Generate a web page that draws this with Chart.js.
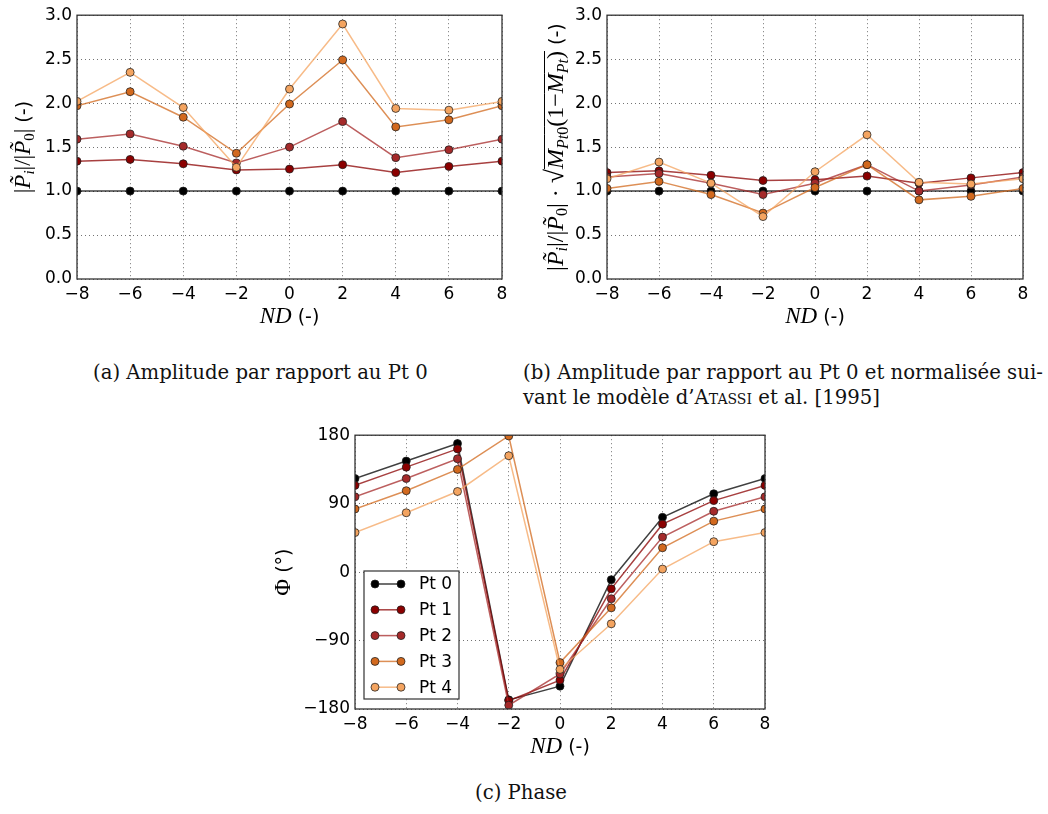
<!DOCTYPE html>
<html>
<head>
<meta charset="utf-8">
<script src="https://cdn.jsdelivr.net/npm/chart.js@4.4.0/dist/chart.umd.min.js"></script>
<style>
  body { margin: 0; background: #fff; width: 1048px; height: 814px; position: relative; overflow: hidden; }
  canvas { position: absolute; }
  .cap { position: absolute; font-family: 'DejaVu Serif', serif; font-size: 18px; color: #111; white-space: nowrap; line-height: 25px; }
</style>
</head>
<body>
<canvas id="chartA" width="520" height="335" style="left:0;top:0"></canvas>
<canvas id="chartB" width="528" height="335" style="left:520px;top:0"></canvas>
<canvas id="chartC" width="520" height="345" style="left:270px;top:420px"></canvas>
<div class="cap" style="left:93px;top:360px">(a) Amplitude par rapport au Pt 0</div>
<div class="cap" style="left:523px;top:360px"><span id="capLine">(b) Amplitude par rapport au Pt 0 et normalisée sui-</span><br>vant le modèle d’A<span style="font-variant:small-caps">tassi</span> et al. [1995]</div>
<div class="cap" style="left:475px;top:780px">(c) Phase</div>
<script>
// ND positions
const nd = [-8, -6, -4, -2, 0, 2, 4, 6, 8];
const labels = ['Pt 0', 'Pt 1', 'Pt 2', 'Pt 3', 'Pt 4'];
const colors = ['#000000', '#8b0000', '#a52a2a', '#d2691e', '#f4a460'];

// (a) amplitude relative to Pt 0
const ampPt0 = [1, 1, 1, 1, 1, 1, 1, 1, 1];
const ampPt1 = [1.34, 1.36, 1.31, 1.24, 1.25, 1.30, 1.21, 1.28, 1.34];
const ampPt2 = [1.59, 1.65, 1.51, 1.32, 1.50, 1.79, 1.38, 1.47, 1.59];
const ampPt3 = [1.97, 2.13, 1.84, 1.43, 1.99, 2.49, 1.73, 1.81, 1.97];
const ampPt4 = [2.02, 2.35, 1.95, 1.27, 2.16, 2.90, 1.94, 1.92, 2.02];

// (b) normalised amplitude (Atassi)
const normPt0 = [1, 1, 1, 1, 1, 1, 1, 1, 1];
const normPt1 = [1.21, 1.23, 1.18, 1.12, 1.13, 1.17, 1.09, 1.15, 1.21];
const normPt2 = [1.16, 1.20, 1.09, 0.96, 1.09, 1.30, 1.00, 1.07, 1.16];
const normPt3 = [1.03, 1.11, 0.96, 0.75, 1.04, 1.30, 0.90, 0.94, 1.03];
const normPt4 = [1.14, 1.33, 1.09, 0.71, 1.22, 1.64, 1.10, 1.08, 1.14];

// (c) phase in degrees
const phasePt0 = [123, 146, 169, -168, -150, -10, 72, 103, 123];
const phasePt1 = [114, 138, 162, -169, -142, -22, 63, 94, 114];
const phasePt2 = [99, 123, 149, -175, -134, -35, 46, 80, 99];
const phasePt3 = [83, 107, 135, 179, -119, -47, 32, 67, 83];
const phasePt4 = [52, 78, 106, 153, -128, -68, 4, 40, 52];

const SERIF = "'Liberation Serif', serif";
const SANS = "'DejaVu Sans', sans-serif";
const up = s => s + 'px ' + SERIF;
const it = s => 'italic ' + s + 'px ' + SERIF;
const sans = s => s + 'px ' + SANS;

// caption font size so that line 1 of (b) spans the same width as in the figure
const capLine = document.getElementById('capLine');
const capSize = 18 * 520 / capLine.getBoundingClientRect().width;
document.querySelectorAll('.cap').forEach(el => { el.style.fontSize = capSize.toFixed(2) + 'px'; });

function rgba(hex, a) {
  const n = parseInt(hex.slice(1), 16);
  return 'rgba(' + (n >> 16) + ',' + ((n >> 8) & 255) + ',' + (n & 255) + ',' + a + ')';
}

function minus(v) {
  return v < 0 ? '\u2212' + Math.abs(v) : '' + v;
}

// draw a run of text pieces in different fonts, centred on (x, y)
function drawRich(ctx, segs, x, y, angle) {
  ctx.save();
  ctx.translate(x, y);
  ctx.rotate(angle);
  ctx.textBaseline = 'alphabetic';
  ctx.fillStyle = '#000';
  let w = 0;
  segs.forEach(s => { ctx.font = s.f; s.w = ctx.measureText(s.t).width; w += s.w; });
  let cx = -w / 2;
  segs.forEach(s => {
    ctx.font = s.f;
    ctx.fillText(s.t, cx, s.dy || 0);
    if (s.over) ctx.fillRect(cx, -s.over, s.w, 1);
    cx += s.w;
  });
  ctx.restore();
}

const xTitle = [
  { t: 'ND', f: it(23) },
  { t: ' (-)', f: sans(19) }
];

const yTitleA = [
  { t: '|', f: up(23) }, { t: 'P\u0303', f: it(23) }, { t: 'i', f: it(15), dy: 4 },
  { t: '|/|', f: up(23) }, { t: 'P\u0303', f: it(23) }, { t: '0', f: up(15), dy: 4 },
  { t: '|', f: up(23) }, { t: ' (-)', f: sans(19) }
];

const yTitleB = [
  { t: '|', f: up(24) }, { t: 'P\u0303', f: it(24) }, { t: 'i', f: it(16), dy: 4 },
  { t: '|/|', f: up(24) }, { t: 'P\u0303', f: it(24) }, { t: '0', f: up(16), dy: 4 },
  { t: '| \u00b7 ', f: up(24) }, { t: '\u221a', f: up(26) },
  { t: 'M', f: it(24), over: 19 }, { t: 'Pt', f: it(16), dy: 5, over: 19 }, { t: '0', f: up(16), dy: 5, over: 19 },
  { t: '(1\u2212', f: up(24), over: 19 }, { t: 'M', f: it(24), over: 19 },
  { t: 'Pt', f: it(16), dy: 5, over: 19 }, { t: ')', f: up(24), over: 19 },
  { t: ' (-)', f: sans(19) }
];

const yTitleC = [
  { t: '\u03a6', f: up(23) },
  { t: ' (\u00b0)', f: sans(19) }
];

const framePlugin = {
  id: 'frame',
  afterDatasetsDraw(chart) {
    const { ctx, chartArea: a } = chart;
    ctx.save();
    ctx.strokeStyle = '#333';
    ctx.lineWidth = 1.3;
    ctx.strokeRect(a.left, a.top, a.right - a.left, a.bottom - a.top);
    ctx.restore();
  }
};

const titlePlugin = {
  id: 'axisTitles',
  afterDraw(chart, args, opts) {
    const { ctx, chartArea: a } = chart;
    drawRich(ctx, opts.x, (a.left + a.right) / 2, a.bottom + 44, 0);
    drawRich(ctx, opts.y, a.left - opts.yOff, (a.top + a.bottom) / 2, -Math.PI / 2);
  }
};

const legendPlugin = {
  id: 'boxLegend',
  afterDraw(chart, args, opts) {
    if (!opts.show) return;
    const { ctx, chartArea: a } = chart;
    const bx = a.left + 9, bw = 95, bh = 128, by = a.bottom - 10 - bh;
    ctx.save();
    ctx.fillStyle = '#fff';
    ctx.fillRect(bx, by, bw, bh);
    ctx.strokeStyle = '#333';
    ctx.lineWidth = 1.2;
    ctx.strokeRect(bx, by, bw, bh);
    chart.data.datasets.forEach((ds, i) => {
      const y = by + 13 + i * 25.8;
      ctx.strokeStyle = ds.borderColor;
      ctx.lineWidth = 1.5;
      ctx.beginPath();
      ctx.moveTo(bx + 11, y);
      ctx.lineTo(bx + 37, y);
      ctx.stroke();
      [bx + 11, bx + 37].forEach(px => {
        ctx.beginPath();
        ctx.arc(px, y, 4, 0, Math.PI * 2);
        ctx.fillStyle = ds.pointBackgroundColor;
        ctx.fill();
        ctx.strokeStyle = ds.pointBorderColor;
        ctx.lineWidth = 1;
        ctx.stroke();
      });
      ctx.fillStyle = '#000';
      ctx.font = sans(17);
      ctx.textBaseline = 'middle';
      ctx.fillText(ds.label, bx + 55, y + 1);
    });
    ctx.restore();
  }
};

function makeDatasets(series) {
  return series.map((vals, i) => ({
    label: labels[i],
    data: nd.map((x, j) => ({ x: x, y: vals[j] })),
    borderColor: rgba(colors[i], 0.75),
    borderWidth: 1.5,
    pointRadius: 4,
    pointBackgroundColor: colors[i],
    pointBorderColor: 'rgba(30,30,30,0.75)',
    pointBorderWidth: 1,
    tension: 0,
    fill: false,
    order: 4 - i
  }));
}

function makeChart(id, series, cfg) {
  new Chart(document.getElementById(id), {
    type: 'line',
    data: { datasets: makeDatasets(series) },
    options: {
      responsive: false,
      animation: false,
      events: [],
      layout: { padding: { left: 0, top: cfg.top, right: cfg.right, bottom: 0 } },
      scales: {
        x: {
          type: 'linear',
          min: -8, max: 8,
          grid: { color: 'rgba(0,0,0,0.55)', lineWidth: 1, drawTicks: false },
          border: { display: false, dash: [1, 3] },
          ticks: { stepSize: 2, padding: 5, color: '#000', font: { family: SANS, size: 17 }, callback: v => minus(v) },
          afterFit(scale) { scale.height = cfg.xH; }
        },
        y: {
          min: cfg.yMin, max: cfg.yMax,
          grid: { color: 'rgba(0,0,0,0.55)', lineWidth: 1, drawTicks: false },
          border: { display: false, dash: [1, 3] },
          ticks: { stepSize: cfg.yStep, padding: 5, color: '#000', font: { family: SANS, size: 17 }, callback: cfg.yFmt },
          afterFit(scale) { scale.width = cfg.yW; }
        }
      },
      plugins: {
        legend: { display: false },
        tooltip: { enabled: false },
        axisTitles: { x: xTitle, y: cfg.yTitle, yOff: cfg.yOff },
        boxLegend: { show: !!cfg.legend }
      }
    },
    plugins: [framePlugin, titlePlugin, legendPlugin]
  });
}

makeChart('chartA', [ampPt0, ampPt1, ampPt2, ampPt3, ampPt4], {
  top: 14, right: 18, xH: 56, yW: 77, yMin: 0, yMax: 3, yStep: 0.5,
  yFmt: v => v.toFixed(1), yTitle: yTitleA, yOff: 47
});

makeChart('chartB', [normPt0, normPt1, normPt2, normPt3, normPt4], {
  top: 14, right: 25, xH: 56, yW: 87, yMin: 0, yMax: 3, yStep: 0.5,
  yFmt: v => v.toFixed(1), yTitle: yTitleB, yOff: 44
});

makeChart('chartC', [phasePt0, phasePt1, phasePt2, phasePt3, phasePt4], {
  top: 15, right: 25, xH: 56, yW: 85, yMin: -180, yMax: 180, yStep: 90,
  yFmt: v => minus(v), yTitle: yTitleC, yOff: 65, legend: true
});
</script>
</body>
</html>
